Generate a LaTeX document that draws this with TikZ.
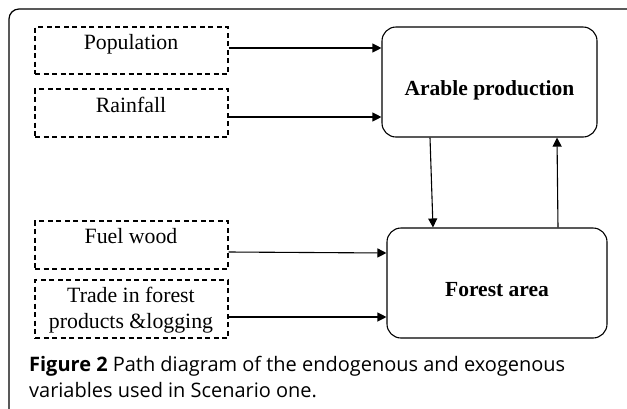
\documentclass[tikz,border=0pt]{standalone}
\usepackage{fontspec}
\setmainfont{Liberation Serif}
\newfontfamily\capfont{Open Sans}
\usetikzlibrary{arrows.meta}
\newlength\capw
\AtBeginDocument{%
  \settowidth\capw{\capfont\fontsize{10}{12}\selectfont\textbf{Figure 2} Path diagram of the endogenous and exogenous}%
  \pgfmathsetmacro\capsize{5360/\capw}%
  \xdef\capsize{\capsize}}
\tikzset{
  dbox/.style={draw, dash pattern=on 5pt off 3.5pt, line width=1.3pt, inner sep=0pt},
  rbox/.style={draw, rounded corners=14pt, line width=1.1pt, inner sep=0pt,
    font=\fontsize{21.5}{24}\selectfont\bfseries, text height=30pt, text depth=4pt},
  lbl/.style={font=\fontsize{21.8}{26}\selectfont, inner sep=0pt, align=center},
  conn/.style={line width=1.1pt, -{Triangle[length=9pt,width=9pt]}},
  caplbl/.style={anchor=base west, inner sep=0pt, font=\capfont\fontsize{\capsize}{26}\selectfont},
}
\begin{document}
\begin{tikzpicture}[x=1pt,y=-1pt]
\useasboundingbox (0,0) rectangle (627,408);
% outer frame
\draw[line width=1.2pt, rounded corners=10pt] (9,420) -- (9,9) -- (640,9);
% exogenous boxes
\node[dbox, minimum width=193pt, minimum height=47pt] (pop) at (131.5,50.5) {};
\node[lbl, anchor=base] (poplbl) at (131,49) {Population};
\node[dbox, minimum width=193pt, minimum height=48pt] (rain) at (131.5,113) {};
\node[lbl, anchor=base] (rainlbl) at (131,112) {Rainfall};
\node[dbox, minimum width=193pt, minimum height=48pt] (fuel) at (131.5,245) {};
\node[lbl, anchor=base] (fuellbl) at (131,243) {Fuel wood};
\node[dbox, minimum width=193pt, minimum height=58pt] (trade) at (131.5,309) {};
\node[lbl, anchor=base] (tradelbl) at (131,302) {Trade in forest};
\node[lbl, anchor=base] (tradelbl2) at (131,328) {products \&logging};
% endogenous boxes
\node[rbox, minimum width=215pt, minimum height=110pt] (arable) at (489.5,82) {Arable production};
\node[rbox, minimum width=220pt, minimum height=110pt] (forest) at (497,283) {Forest area};
% connector end points
\coordinate (p1) at ([yshift=2.5pt]pop.east);
\coordinate (r1) at ([yshift=-4pt]rain.east);
\coordinate (f1) at ([yshift=-7pt]fuel.east);
\coordinate (f2) at ([yshift=-8pt]fuel.east);
\coordinate (t1) at ([yshift=-8pt]trade.east);
% connectors
\draw[conn] (p1) -- (arable.west |- p1);
\draw[conn] (r1) -- (arable.west |- r1);
\draw[conn] (f1) -- (forest.west |- f2);
\draw[conn] (t1) -- (forest.west |- t1);
\draw[conn] ([xshift=-59.5pt]arable.south) -- ([xshift=-64pt]forest.north);
\draw[conn] ([xshift=61pt]forest.north) -- ([xshift=67.5pt]arable.south);
% caption
\node[caplbl] (cap1) at (29,371) {\textbf{Figure 2} Path diagram of the endogenous and exogenous};
\node[caplbl] (cap2) at (29,397) {variables used in Scenario one.};
\end{tikzpicture}
\end{document}
